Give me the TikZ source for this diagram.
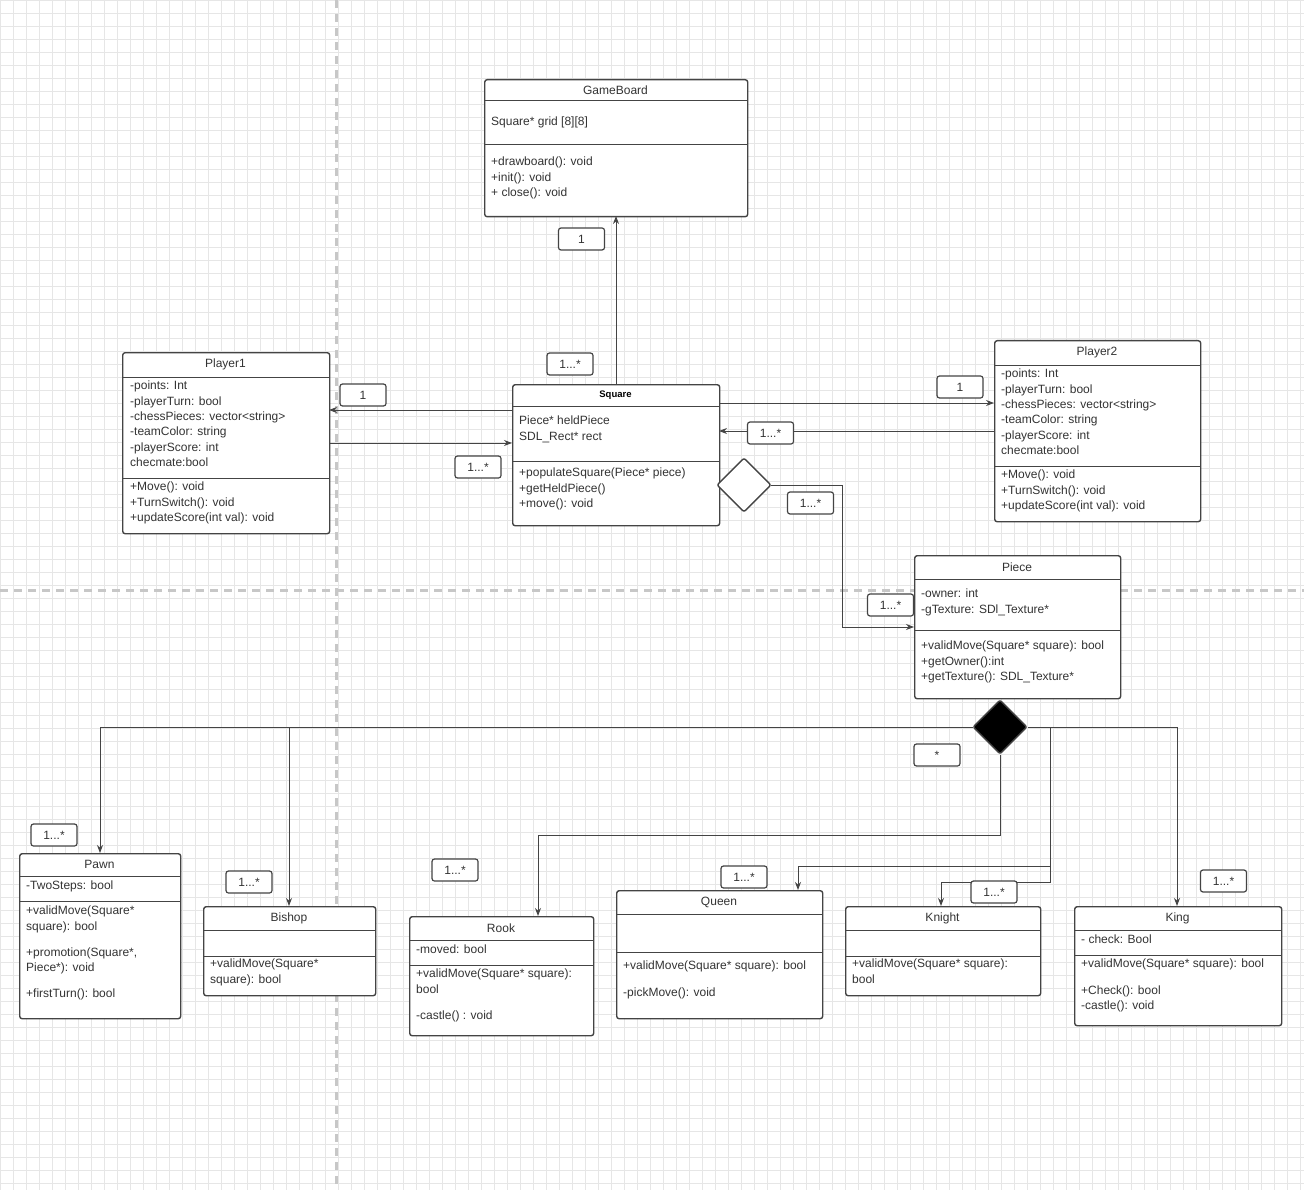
\documentclass[tikz,border=0pt]{standalone}
\usepackage{fontspec}
\setmainfont{Liberation Sans}
\usetikzlibrary{arrows.meta}
\definecolor{ln}{HTML}{444444}
\definecolor{gr}{HTML}{E6E6E6}
\definecolor{txt}{HTML}{333333}
\newcommand\umlbox[8]{%
  \pgfmathsetmacro\bw{#4-#2}\pgfmathsetmacro\bh{#5-#3}%
  \node[cls,minimum width=\bw pt,minimum height=\bh pt] (#1) at (#2,#3) {};
  \draw[ln,line width=1pt] (#2,#6) -- (#4,#6);
  \draw[ln,line width=1pt] (#2,#7) -- (#4,#7);
  \node[txt,font=\fontsize{12}{15}\selectfont] (#1t) at ({(#2+#4)/2},{(#3+#6)/2}) {#8};
}
\newcommand\lbl[3]{\node[lab] (#1) at (#2) {#3};}
\begin{document}
\begin{tikzpicture}[x=1pt,y=-1pt,
  cls/.style={draw=ln,line width=1.4pt,rounded corners=2.5pt,anchor=north west,inner sep=0pt,fill=white},
  tx/.style={anchor=north west,align=left,inner sep=0pt,text=txt,font=\fontsize{12}{15.3}\selectfont},
  lab/.style={draw=ln,line width=1.2pt,rounded corners=2.5pt,fill=white,minimum width=46pt,minimum height=22pt,inner sep=0pt,text=txt,font=\fontsize{12}{14}\selectfont},
  con/.style={draw=ln,line width=1pt,-{Stealth[length=8pt,width=6pt]}},
  pl/.style={draw=ln,line width=1pt}]
\useasboundingbox (0,0) rectangle (1304,1190);
\fill[white] (0,0) rectangle (1304,1190);
\foreach \i in {0,13,...,1300} {\draw[gr,line width=0.6pt] (\i,0) -- (\i,1190);}
\foreach \i in {0,13,...,1190} {\draw[gr,line width=0.6pt] (0,\i) -- (1304,\i);}
\draw[gr!70!gray,line width=3pt,dashed,dash pattern=on 8pt off 6pt] (336,0) -- (336,1190);
\draw[gr!70!gray,line width=3pt,dash pattern=on 8pt off 6pt] (0,590) -- (1304,590);

\umlbox{gb}{484}{79}{747}{216}{101}{145}{GameBoard}
\node[tx] at (491,117) {Square* grid [8][8]};
\node[tx] at (491,157) {+drawboard(): void\\+init(): void\\+ close(): void};

\umlbox{p1}{122}{352}{329}{533}{377}{478}{Player1}
\node[tx] at (130,381) {-points: Int\\-playerTurn: bool\\-chessPieces: vector<string>\\-teamColor: string\\-playerScore: int\\checmate:bool};
\node[tx] at (130,482) {+Move(): void\\+TurnSwitch(): void\\+updateScore(int val): void};

\umlbox{sq}{512}{384}{719}{525}{406}{461}{}
\node[font=\fontsize{9.5}{11}\bfseries\selectfont] at (615.5,395) {Square};
\node[tx] at (519,416) {Piece* heldPiece\\SDL\_Rect* rect};
\node[tx] at (519,468) {+populateSquare(Piece* piece)\\+getHeldPiece()\\+move(): void};

\umlbox{p2}{994}{340}{1200}{521}{365}{466}{Player2}
\node[tx] at (1001,369) {-points: Int\\-playerTurn: bool\\-chessPieces: vector<string>\\-teamColor: string\\-playerScore: int\\checmate:bool};
\node[tx] at (1001,470) {+Move(): void\\+TurnSwitch(): void\\+updateScore(int val): void};

\umlbox{pc}{914}{555}{1120}{698}{579}{630}{Piece}
\node[tx] at (921,589) {-owner: int\\-gTexture: SDl\_Texture*};
\node[tx] at (921,641) {+validMove(Square* square): bool\\+getOwner():int\\+getTexture(): SDL\_Texture*};

\umlbox{pawn}{19}{853}{180}{1018}{876}{901}{Pawn}
\node[tx] at (26,881) {-TwoSteps: bool};
\node[tx] at (26,906) {+validMove(Square*\\square): bool\\[0.9em]+promotion(Square*,\\Piece*): void\\[0.9em]+firstTurn(): bool};

\umlbox{bishop}{203}{906}{375}{995}{930}{956}{Bishop}
\node[tx] at (210,959) {+validMove(Square*\\square): bool};

\umlbox{rook}{409}{916}{593}{1035}{940}{965}{Rook}
\node[tx] at (416,945) {-moved: bool};
\node[tx] at (416,969) {+validMove(Square* square):\\bool\\[0.9em]-castle() : void};

\umlbox{queen}{616}{890}{822}{1018}{914}{952}{Queen}
\node[tx] at (623,961) {+validMove(Square* square): bool\\[0.9em]-pickMove(): void};

\umlbox{knight}{845}{906}{1040}{995}{930}{956}{Knight}
\node[tx] at (852,959) {+validMove(Square* square):\\bool};

\umlbox{king}{1074}{906}{1281}{1025}{930}{955}{King}
\node[tx] at (1081,935) {- check: Bool};
\node[tx] at (1081,959) {+validMove(Square* square): bool\\[0.9em]+Check(): bool\\-castle(): void};

% connectors
\coordinate (a1) at (512,410); \coordinate (a2) at (329,410);
\coordinate (b1) at (329,443); \coordinate (b2) at (512,443);
\coordinate (c1) at (719,403); \coordinate (c2) at (994,403);
\coordinate (d1) at (994,431); \coordinate (d2) at (719,431);
\draw[con] (sq.north -| 616,0) -- (616,216);
\draw[con] (a1) -- (a2);
\draw[con] (b1) -- (b2);
\draw[con] (c1) -- (c2);
\draw[con] (d1) -- (d2);
\node[draw=ln,line width=1.4pt,fill=white,shape=rectangle,rotate=45,minimum size=38pt,inner sep=0pt,rounded corners=2pt] (hd) at (744,485) {};
\coordinate (hdr) at (771,485);
\draw[con] (hdr) -- (842,485) -- (842,627) -- (914,627);

\coordinate (fl) at (973,727); \coordinate (fr) at (1028,727); \coordinate (fb) at (1000,755);
\draw[con] (fl) -- (100,727) -- (100,853);
\draw[con] (289,727) -- (289,906);
\draw[con] (fr) -- (1177,727) -- (1177,906);
\draw[con] (1050,727) -- (1050,866) -- (798,866) -- (798,890);
\draw[con] (1050,866) -- (1050,882) -- (941,882) -- (941,906);
\draw[con] (fb) -- (1000,835) -- (538,835) -- (538,916);
\node[draw=ln,line width=1.4pt,fill=black,rotate=45,minimum size=38pt,inner sep=0pt,rounded corners=2pt] (fd) at (1000,727) {};

\lbl{l1}{581.5,239}{1}
\lbl{l2}{570,364}{1...*}
\lbl{l3}{363,395}{1}
\lbl{l4}{478,467}{1...*}
\lbl{l5}{960,387}{1}
\lbl{l6}{770.5,433}{1...*}
\lbl{l7}{810.5,503}{1...*}
\lbl{l8}{890.5,605}{1...*}
\lbl{l9}{937,755}{*}
\lbl{l10}{54,835}{1...*}
\lbl{l11}{249,882}{1...*}
\lbl{l12}{455,870}{1...*}
\lbl{l13}{744,877}{1...*}
\lbl{l14}{994,892}{1...*}
\lbl{l15}{1223.5,881}{1...*}
\end{tikzpicture}
\end{document}
